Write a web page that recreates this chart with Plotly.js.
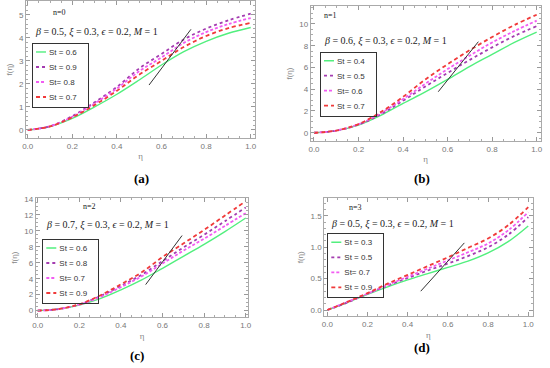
<!DOCTYPE html>
<html>
<head>
<meta charset="utf-8">
<script src="https://cdn.plot.ly/plotly-3.0.1.min.js"></script>
<style>html,body{margin:0;padding:0;background:#fff;}#chart{width:550px;height:368px;}</style>
</head>
<body>
<div id="chart"></div>
<script>
// ---- data ----
const eta = [0, 0.1, 0.2, 0.3, 0.4, 0.5, 0.6, 0.7, 0.8, 0.9, 1.0];

// panel (a) n=0
const aLabels = ["St = 0.6", "St = 0.9", "St= 0.8", "St = 0.7"];
const aGreen  = [0, 0.15, 0.50, 1.00, 1.55, 2.17, 2.82, 3.40, 3.85, 4.20, 4.45];
const aPurple = [0, 0.16, 0.60, 1.20, 1.87, 2.67, 3.30, 3.93, 4.40, 4.76, 5.05];
const aMagenta= [0, 0.16, 0.57, 1.15, 1.80, 2.55, 3.15, 3.78, 4.25, 4.60, 4.86];
const aRed    = [0, 0.15, 0.55, 1.08, 1.70, 2.40, 3.00, 3.60, 4.08, 4.42, 4.65];
const aArrowX = [0.544, 0.732];
const aArrowY = [1.95, 4.37];

// panel (b) n=1
const bLabels = ["St = 0.4", "St = 0.5", "St= 0.6", "St = 0.7"];
const bGreen  = [0, 0.20, 0.70, 1.60, 2.70, 3.75, 4.90, 6.10, 7.20, 8.30, 9.25];
const bPurple = [0, 0.20, 0.75, 1.70, 2.95, 4.25, 5.50, 6.70, 7.85, 8.90, 9.80];
const bMagenta= [0, 0.20, 0.78, 1.80, 3.10, 4.50, 5.85, 7.10, 8.30, 9.35, 10.30];
const bRed    = [0, 0.20, 0.80, 1.90, 3.30, 4.90, 6.30, 7.60, 8.80, 9.90, 10.85];
const bArrowX = [0.558, 0.738];
const bArrowY = [3.77, 8.37];

// panel (c) n=2
const cLabels = ["St = 0.6", "St = 0.8", "St= 0.7", "St = 0.9"];
const cGreen  = [0, 0.20, 0.70, 1.50, 2.60, 3.85, 5.30, 6.80, 8.30, 9.90, 11.60];
const cPurple = [0, 0.20, 0.78, 1.80, 3.10, 4.50, 6.20, 7.90, 9.50, 11.20, 12.90];
const cMagenta= [0, 0.20, 0.75, 1.70, 2.95, 4.30, 5.90, 7.50, 9.00, 10.60, 12.20];
const cRed    = [0, 0.20, 0.80, 1.90, 3.30, 4.80, 6.70, 8.40, 10.10, 11.90, 13.70];
const cArrowX = [0.519, 0.694];
const cArrowY = [3.26, 9.40];

// panel (d) n=3
const dLabels = ["St = 0.3", "St = 0.5", "St= 0.7", "St = 0.9"];
const dGreen  = [0, 0.12, 0.25, 0.37, 0.48, 0.58, 0.68, 0.78, 0.91, 1.09, 1.34];
const dPurple = [0, 0.12, 0.26, 0.39, 0.51, 0.63, 0.74, 0.86, 1.00, 1.20, 1.48];
const dMagenta= [0, 0.13, 0.26, 0.40, 0.53, 0.66, 0.79, 0.92, 1.06, 1.27, 1.56];
const dRed    = [0, 0.13, 0.27, 0.42, 0.56, 0.70, 0.84, 0.99, 1.14, 1.35, 1.64];
const dArrowX = [0.465, 0.682];
const dArrowY = [0.30, 1.07];

// ---- styles ----
const GREEN = "#52ef7e", PURPLE = "#a43cb0", MAGENTA = "#f25cf2", RED = "#f03a3a";
const styles = [
  {color: GREEN, width: 1.4, dash: "solid"},
  {color: PURPLE, width: 1.8, dash: "dot"},
  {color: MAGENTA, width: 1.8, dash: "3px,2px"},
  {color: RED, width: 1.8, dash: "4px,3px"}
];

const panels = [
  {key: "", labels: aLabels, ys: [aGreen, aPurple, aMagenta, aRed], ax: aArrowX, ay: aArrowY, legend: "legend"},
  {key: "2", labels: bLabels, ys: [bGreen, bPurple, bMagenta, bRed], ax: bArrowX, ay: bArrowY, legend: "legend2"},
  {key: "3", labels: cLabels, ys: [cGreen, cPurple, cMagenta, cRed], ax: cArrowX, ay: cArrowY, legend: "legend3"},
  {key: "4", labels: dLabels, ys: [dGreen, dPurple, dMagenta, dRed], ax: dArrowX, ay: dArrowY, legend: "legend4"}
];

const traces = [];
panels.forEach(p => {
  p.ys.forEach((y, i) => {
    traces.push({
      x: eta, y: y, type: "scatter", mode: "lines",
      name: p.labels[i], legend: p.legend,
      xaxis: "x" + p.key, yaxis: "y" + p.key,
      line: Object.assign({shape: "spline", smoothing: 1}, styles[i])
    });
  });
  traces.push({
    x: p.ax, y: p.ay, type: "scatter", mode: "lines", showlegend: false,
    xaxis: "x" + p.key, yaxis: "y" + p.key,
    line: {color: "#333", width: 1}, hoverinfo: "skip"
  });
});

const tickFont = {family: "Liberation Sans, Arial, sans-serif", size: 8, color: "#777"};
function xax(domain, range, anchor) {
  return {
    domain: domain, range: range, anchor: anchor,
    showgrid: false, zeroline: false, showline: true, linecolor: "#aaa", linewidth: 1, mirror: "allticks",
    ticks: "inside", ticklen: 4, tickcolor: "#999", dtick: 0.2, tick0: 0, tickformat: ".1f",
    minor: {ticks: "inside", ticklen: 2, tickcolor: "#aaa", dtick: 0.05},
    tickfont: tickFont,
    title: {text: "η", font: {family: "Liberation Serif, serif", size: 9, color: "#888"}, standoff: 3}
  };
}
function yax(domain, range, anchor, dtick, minorDtick, fmt) {
  return {
    domain: domain, range: range, anchor: anchor,
    showgrid: false, zeroline: false, showline: true, linecolor: "#aaa", linewidth: 1, mirror: "allticks",
    ticks: "inside", ticklen: 4, tickcolor: "#999", dtick: dtick, tick0: 0, tickformat: fmt,
    minor: {ticks: "inside", ticklen: 2, tickcolor: "#aaa", dtick: minorDtick},
    tickfont: tickFont,
    title: {text: "f(η)", font: {family: "Liberation Sans, Arial, sans-serif", size: 8, color: "#888"}, standoff: 5}
  };
}

const legendBase = {
  xanchor: "left", yanchor: "top", bgcolor: "rgba(255,255,255,0)",
  bordercolor: "#333", borderwidth: 1,
  font: {family: "Liberation Sans, Arial, sans-serif", size: 8, color: "#333"},
  itemwidth: 30, tracegroupgap: 0
};

const serif = "Liberation Serif, Times New Roman, serif";
const paramText = (b) => "<i>β</i> = " + b + ", <i>ξ</i> = 0.3, <i>ϵ</i> = 0.2, <i>M</i> = 1";
function ann(text, x, y, size, xanchor, bold) {
  return {text: bold ? "<b>" + text + "</b>" : text, x: x, y: y, xref: "paper", yref: "paper",
    xanchor: xanchor, yanchor: "middle", showarrow: false,
    font: {family: serif, size: size, color: bold ? "#000" : "#222"}};
}

const layout = {
  width: 550, height: 368,
  margin: {l: 0, r: 0, t: 0, b: 0},
  paper_bgcolor: "#fff", plot_bgcolor: "#fff",
  showlegend: true,
  xaxis:  xax([0.0473, 0.4642], [-0.0076, 1.0206], "y"),
  yaxis:  yax([0.625, 0.9973], [-0.35, 5.6], "x", 1, 0.2, "d"),
  xaxis2: xax([0.5649, 0.9831], [-0.0148, 1.018], "y2"),
  yaxis2: yax([0.6168, 0.9837], [-0.76, 11.65], "x2", 2, 0.5, "d"),
  xaxis3: xax([0.0649, 0.4515], [-0.0096, 1.0125], "y3"),
  yaxis3: yax([0.1378, 0.4620], [-0.83, 14.1], "x3", 2, 0.5, "d"),
  xaxis4: xax([0.5896, 0.9685], [-0.015, 1.022], "y4"),
  yaxis4: yax([0.1405, 0.4611], [-0.1, 1.78], "x4", 0.5, 0.1, ".1f"),
  legend:  Object.assign({}, legendBase, {x: 0.0582, y: 0.8832}),
  legend2: Object.assign({}, legendBase, {x: 0.5818, y: 0.8595}),
  legend3: Object.assign({}, legendBase, {x: 0.0769, y: 0.3505}),
  legend4: Object.assign({}, legendBase, {x: 0.5951, y: 0.3660}),
  annotations: [
    ann("n=0", 0.109, 0.9647, 8, "center"),
    ann(paramText("0.5"), 0.060, 0.913, 10, "left"),
    ann("n=1", 0.6018, 0.959, 8, "center"),
    ann(paramText("0.6"), 0.5849, 0.8878, 10, "left"),
    ann("n=2", 0.1636, 0.4383, 8, "center"),
    ann(paramText("0.7"), 0.080, 0.3878, 10, "left"),
    ann("n=3", 0.6455, 0.4367, 8, "center"),
    ann(paramText("0.5"), 0.5987, 0.3913, 10, "left"),
    ann("(a)", 0.2564, 0.5136, 13, "center", true),
    ann("(b)", 0.7667, 0.5155, 13, "center", true),
    ann("(c)", 0.2485, 0.0334, 13, "center", true),
    ann("(d)", 0.7667, 0.0560, 13, "center", true)
  ]
};

// compact the legend entries (the reference legends use 15px rows and short samples)
const ROW = 15, FIRST = 9, LINE_X = 3, LINE_LEN = 10, TEXT_X = 16, PAD_R = 10;
function compactLegends() {
  const groups = document.querySelectorAll("#chart .infolayer > g");
  groups.forEach(lg => {
    const cls = lg.getAttribute("class") || "";
    if (!/^legend/.test(cls)) return;
    const items = lg.querySelectorAll("g.traces");
    if (!items.length) return;
    let maxW = 0;
    items.forEach((it, i) => {
      it.setAttribute("transform", "translate(1," + (FIRST + i * ROW) + ")");
      it.querySelectorAll("path.js-line").forEach(p => p.setAttribute("d", "M" + LINE_X + ",0h" + LINE_LEN));
      const t = it.querySelector("text");
      if (t) {
        t.setAttribute("x", TEXT_X);
        t.querySelectorAll("tspan").forEach(s => { if (s.hasAttribute("x")) s.setAttribute("x", TEXT_X); });
        let wv = 0;
        try { wv = Math.max(t.getBBox().width, t.getComputedTextLength()); } catch (e) { wv = 0; }
        maxW = Math.max(maxW, wv, 30);
      }
    });
    const h = FIRST + (items.length - 1) * ROW + FIRST + 1;
    const w = TEXT_X + maxW + PAD_R;
    lg.querySelectorAll("rect.bg").forEach(bg => { bg.setAttribute("width", w); bg.setAttribute("height", h); });
  });
}

Plotly.newPlot("chart", traces, layout, {staticPlot: true, displayModeBar: false}).then(compactLegends);
</script>
</body>
</html>
